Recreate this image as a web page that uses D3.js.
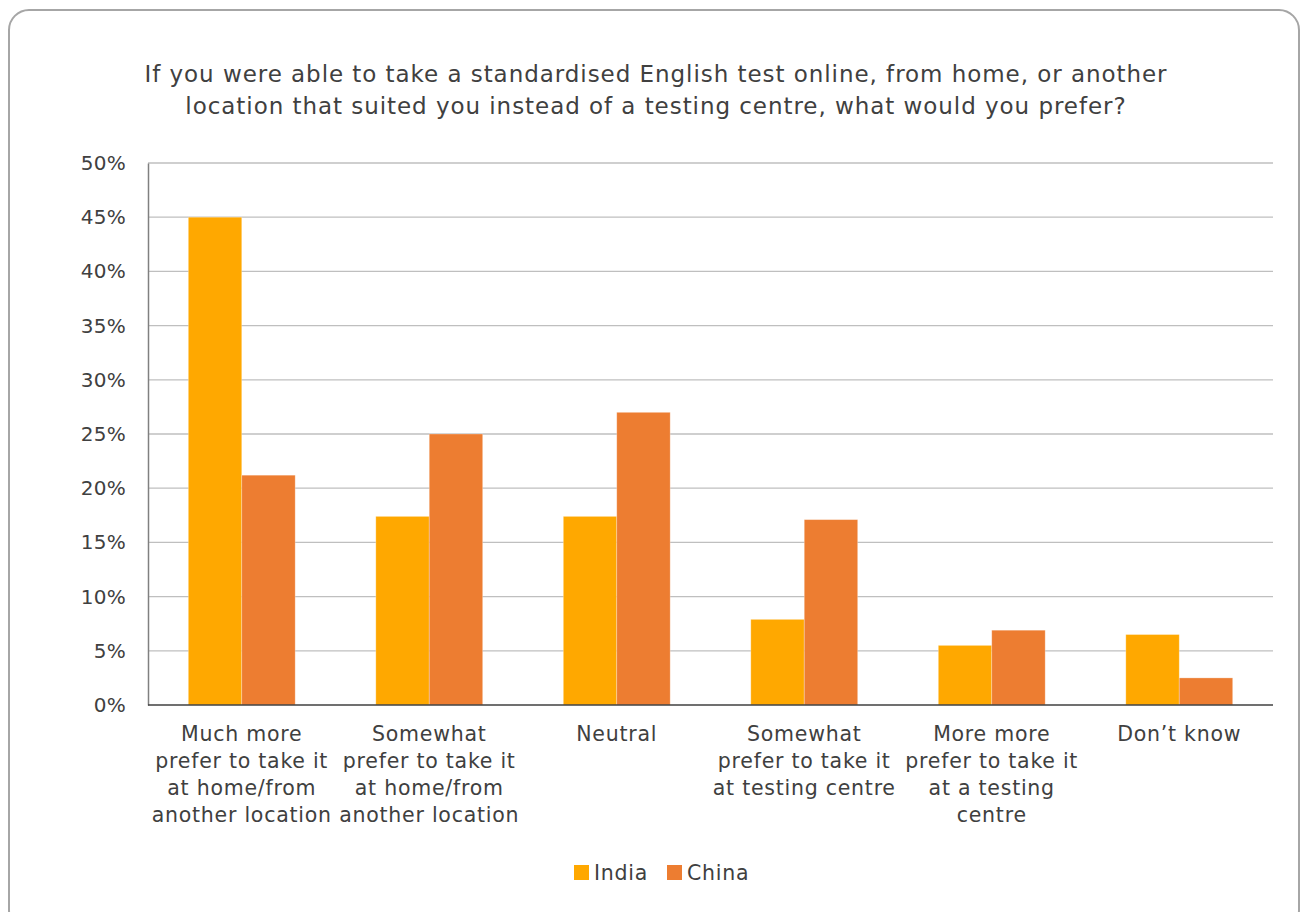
<!DOCTYPE html>
<html>
<head>
<meta charset="utf-8">
<script src="https://cdn.jsdelivr.net/npm/d3@7"></script>
<style>
  body { margin: 0; background: #fff; }
  svg { display: block; font-family: "DejaVu Sans", sans-serif; }
</style>
</head>
<body>
<svg id="chart" width="1302" height="912"></svg>
<script>
// chart values
var categories = [
    ["Much more", "prefer to take it", "at home/from", "another location"],
    ["Somewhat", "prefer to take it", "at home/from", "another location"],
    ["Neutral"],
    ["Somewhat", "prefer to take it", "at testing centre"],
    ["More more", "prefer to take it", "at a testing", "centre"],
    ["Don\u2019t know"]
];
var seriesNames = ["India", "China"];
var india = [45, 17.4, 17.4, 7.9, 5.5, 6.5];
var china = [21.2, 25, 27, 17.1, 6.9, 2.5];
var yTicks = [0, 5, 10, 15, 20, 25, 30, 35, 40, 45, 50];
var titleLines = [
    "If you were able to take a standardised English test online, from home, or another",
    "location that suited you instead of a testing centre, what would you prefer?"
];

var colors = { India: "#ffa800", China: "#ed7d31" };
var textColor = "#404040";

var svg = d3.select("#chart");

// outer rounded frame
svg.append("rect")
    .attr("x", 9).attr("y", 10)
    .attr("width", 1290).attr("height", 920)
    .attr("rx", 20).attr("ry", 20)
    .attr("fill", "none")
    .attr("stroke", "#a6a6a6")
    .attr("stroke-width", 2);

// title
svg.append("text")
    .attr("text-anchor", "middle")
    .attr("fill", textColor)
    .attr("font-size", 23)
    .attr("letter-spacing", 0.95)
  .selectAll("tspan")
    .data(titleLines)
  .enter().append("tspan")
    .attr("x", 656)
    .attr("y", function (d, i) { return 82 + i * 32; })
    .text(function (d) { return d; });

var margin = { left: 148, right: 29, top: 163, bottom: 207 },
    width = 1302 - margin.left - margin.right,
    height = 912 - margin.top - margin.bottom;

var g = svg.append("g")
    .attr("transform", "translate(" + margin.left + "," + margin.top + ")");

var x0 = d3.scaleBand()
    .domain(d3.range(categories.length))
    .range([0, width])
    .paddingInner(0.43)
    .paddingOuter(0.215);

var x1 = d3.scaleBand()
    .domain(seriesNames)
    .range([0, x0.bandwidth()]);

var y = d3.scaleLinear()
    .domain([0, 50])
    .range([height, 0]);

// gridlines
g.append("g")
    .selectAll("line")
    .data(yTicks.slice(1))
  .enter().append("line")
    .attr("x1", 0).attr("x2", width)
    .attr("y1", function (d) { return y(d); })
    .attr("y2", function (d) { return y(d); })
    .attr("stroke", "#bfbfbf")
    .attr("stroke-width", 1.3);

// y axis labels
var yAxis = d3.axisLeft(y)
    .tickValues(yTicks)
    .tickSize(0)
    .tickPadding(22)
    .tickFormat(function (d) { return d + "%"; });

var yg = g.append("g").call(yAxis);
yg.select(".domain").attr("stroke", "#808080").attr("stroke-width", 1.5);
yg.selectAll("text")
    .attr("fill", textColor)
    .attr("font-size", 20)
    .attr("letter-spacing", 0.3)
    .attr("font-family", "'DejaVu Sans', sans-serif");

// bars
var rows = categories.map(function (c, i) {
    return { i: i, values: [{ key: "India", v: india[i] }, { key: "China", v: china[i] }] };
});

var group = g.selectAll("g.cat")
    .data(rows)
  .enter().append("g")
    .attr("class", "cat")
    .attr("transform", function (d) { return "translate(" + x0(d.i) + ",0)"; });

group.selectAll("rect")
    .data(function (d) { return d.values; })
  .enter().append("rect")
    .attr("x", function (d) { return x1(d.key); })
    .attr("y", function (d) { return y(d.v); })
    .attr("width", x1.bandwidth())
    .attr("height", function (d) { return height - y(d.v); })
    .attr("fill", function (d) { return colors[d.key]; })
    .attr("stroke", "#ffffff")
    .attr("stroke-opacity", 0.35)
    .attr("stroke-width", 0.8);

// baseline
g.append("line")
    .attr("x1", 0).attr("x2", width)
    .attr("y1", height).attr("y2", height)
    .attr("stroke", "#404040")
    .attr("stroke-width", 1.5);

// category labels
g.append("g")
    .selectAll("text")
    .data(categories)
  .enter().append("text")
    .attr("text-anchor", "middle")
    .attr("fill", textColor)
    .attr("font-size", 20.5)
    .attr("letter-spacing", 0.75)
  .each(function (lines, i) {
      d3.select(this).selectAll("tspan")
        .data(lines)
      .enter().append("tspan")
        .attr("x", x0(i) + x0.bandwidth() / 2)
        .attr("y", function (d, j) { return height + 36 + j * 27; })
        .text(function (d) { return d; });
  });

// legend
var legend = svg.append("g")
    .attr("transform", "translate(574,865)");

var legendX = [0, 93];
var item = legend.selectAll("g")
    .data(seriesNames)
  .enter().append("g")
    .attr("transform", function (d, i) { return "translate(" + legendX[i] + ",0)"; });

item.append("rect")
    .attr("width", 15).attr("height", 15)
    .attr("fill", function (d) { return colors[d]; });

item.append("text")
    .attr("x", 20)
    .attr("y", 15)
    .attr("fill", textColor)
    .attr("font-size", 20.5)
    .attr("letter-spacing", 0.75)
    .text(function (d) { return d; });
</script>
</body>
</html>
